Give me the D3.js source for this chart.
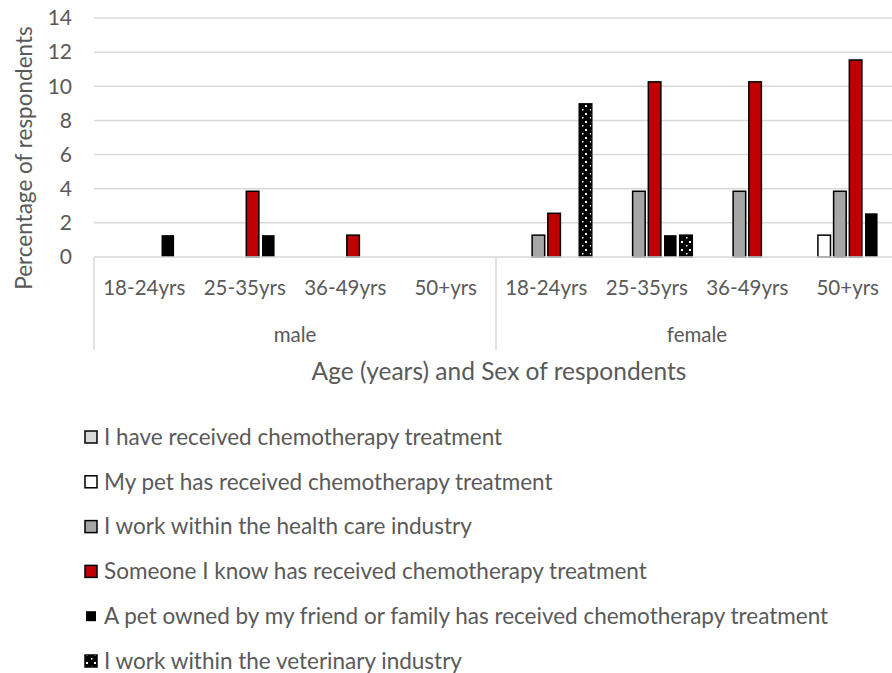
<!DOCTYPE html>
<html>
<head>
<meta charset="utf-8">
<script src="https://cdn.jsdelivr.net/npm/d3@7"></script>
<style>
  body { margin: 0; background: #fff; }
  text { font-family: Lato, "Open Sans", sans-serif; fill: #595959; }
</style>
</head>
<body>
<div class="chart"></div>
<script>
// categories
var sexes = ["male", "female"];
var ages = ["18-24yrs", "25-35yrs", "36-49yrs", "50+yrs"];
var yTicks = [0, 2, 4, 6, 8, 10, 12, 14];

var seriesNames = [
  "I have received chemotherapy treatment",
  "My pet has received chemotherapy treatment",
  "I work within the health care industry",
  "Someone I know has received chemotherapy treatment",
  "A pet owned by my friend or family has received chemotherapy treatment",
  "I work within the veterinary industry"
];

// values, male 4 ages then female 4 ages
var receivedMe   = [0, 0, 0, 0,    0, 0, 0, 0];
var petReceived  = [0, 0, 0, 0,    0, 0, 0, 1.28];
var healthCare   = [0, 0, 0, 0,    1.28, 3.85, 3.85, 3.85];
var someoneKnow  = [0, 3.85, 1.28, 0,   2.56, 10.26, 10.26, 11.54];
var friendPet    = [1.28, 1.28, 0, 0,   0, 1.28, 0, 2.56];
var vetIndustry  = [0, 0, 0, 0,    8.97, 1.28, 0, 0];

var seriesValues = [receivedMe, petReceived, healthCare, someoneKnow, friendPet, vetIndustry];
var fills = ["#d9d9d9", "#ffffff", "#a6a6a6", "#c00000", "#000000", "url(#dots)"];
var strokes = ["#000", "#000", "#000", "#000", "none", "#000"];

var W = 892, H = 673;
var svg = d3.select('.chart')
  .append('svg')
  .attr('width', W)
  .attr('height', H);

var defs = svg.append('defs');
var pat = defs.append('pattern')
  .attr('id', 'dots')
  .attr('patternUnits', 'userSpaceOnUse')
  .attr('width', 8)
  .attr('height', 8);
pat.append('rect').attr('width', 8).attr('height', 8).attr('fill', '#000');
pat.append('rect').attr('x', 1).attr('y', 1).attr('width', 2).attr('height', 2).attr('fill', '#fff');
pat.append('rect').attr('x', 6).attr('y', 5).attr('width', 1.5).attr('height', 1.5).attr('fill', '#fff');

var plotLeft = 94, plotRight = 898, plotTop = 18, plotBase = 257;

var cats = [];
sexes.forEach(function(s) { ages.forEach(function(a) { cats.push(s + "|" + a); }); });

var x0 = d3.scaleBand().domain(cats).range([plotLeft, plotRight]).paddingInner(0).paddingOuter(0);
var x1 = d3.scaleBand().domain(d3.range(seriesNames.length)).range([0, x0.bandwidth()])
  .paddingInner(0.2).paddingOuter(0.3);
var y = d3.scaleLinear().domain([0, 14]).range([plotBase, plotTop]);

// gridlines
svg.append('g').selectAll('line')
  .data(yTicks.slice(1))
  .enter().append('line')
  .attr('x1', plotLeft).attr('x2', plotRight)
  .attr('y1', function(d) { return y(d); })
  .attr('y2', function(d) { return y(d); })
  .attr('stroke', '#d9d9d9')
  .attr('stroke-width', 1.5);

// y tick labels
svg.append('g').selectAll('text')
  .data(yTicks)
  .enter().append('text')
  .attr('x', 72)
  .attr('y', function(d) { return y(d); })
  .attr('dy', '0.35em')
  .attr('text-anchor', 'end')
  .style('font-size', '21px')
  .text(function(d) { return d; });

// bars
seriesValues.forEach(function(vals, si) {
  svg.append('g').selectAll('rect')
    .data(vals.map(function(v, i) { return { v: v, c: cats[i] }; }).filter(function(d) { return d.v > 0; }))
    .enter().append('rect')
    .attr('x', function(d) { return x0(d.c) + x1(si); })
    .attr('y', function(d) { return y(d.v); })
    .attr('width', x1.bandwidth())
    .attr('height', function(d) { return plotBase - y(d.v); })
    .attr('fill', fills[si])
    .attr('stroke', strokes[si])
    .attr('stroke-width', 1.5);
});

// x axis line + group separators
svg.append('line')
  .attr('x1', plotLeft).attr('x2', plotRight).attr('y1', plotBase).attr('y2', plotBase)
  .attr('stroke', '#d9d9d9').attr('stroke-width', 1.5);

var sepX = [plotLeft, x0(sexes[1] + "|" + ages[0]), plotRight];
svg.append('g').selectAll('line')
  .data(sepX)
  .enter().append('line')
  .attr('x1', function(d) { return d; }).attr('x2', function(d) { return d; })
  .attr('y1', plotBase).attr('y2', 350)
  .attr('stroke', '#d9d9d9').attr('stroke-width', 1.5);

// age labels
svg.append('g').selectAll('text')
  .data(cats)
  .enter().append('text')
  .attr('x', function(d) { return x0(d) + x0.bandwidth() / 2; })
  .attr('y', 288)
  .attr('dy', '0.35em')
  .attr('text-anchor', 'middle')
  .style('font-size', '20.5px')
  .text(function(d) { return d.split("|")[1]; });

// sex labels
svg.append('g').selectAll('text')
  .data(sexes)
  .enter().append('text')
  .attr('x', function(s) { return x0(s + "|" + ages[0]) + x0.bandwidth() * 2; })
  .attr('y', 335)
  .attr('dy', '0.35em')
  .attr('text-anchor', 'middle')
  .style('font-size', '20.5px')
  .text(function(s) { return s; });

// axis titles
svg.append('text')
  .attr('x', 499).attr('y', 371).attr('dy', '0.35em')
  .attr('text-anchor', 'middle')
  .style('font-size', '24.5px')
  .text("Age (years) and Sex of respondents");

svg.append('text')
  .attr('transform', 'translate(24,158) rotate(-90)')
  .attr('dy', '0.35em')
  .attr('text-anchor', 'middle')
  .style('font-size', '22.5px')
  .text("Percentage of respondents");

// legend
var leg = svg.append('g').selectAll('g')
  .data(seriesNames)
  .enter().append('g')
  .attr('transform', function(d, i) { return 'translate(85,' + (437 + i * 44.8) + ')'; });

leg.append('rect')
  .attr('x', function(d, i) { return i == 4 ? 1 : 0; })
  .attr('y', function(d, i) { return i == 4 ? -5 : -6; })
  .attr('width', function(d, i) { return i == 4 ? 10 : 12; })
  .attr('height', function(d, i) { return i == 4 ? 10 : 12; })
  .attr('fill', function(d, i) { return fills[i]; })
  .attr('stroke', function(d, i) { return strokes[i]; })
  .attr('stroke-width', 1.5);

leg.append('text')
  .attr('x', 19)
  .attr('dy', '0.35em')
  .style('font-size', '22.5px')
  .text(function(d) { return d; });
</script>
</body>
</html>
